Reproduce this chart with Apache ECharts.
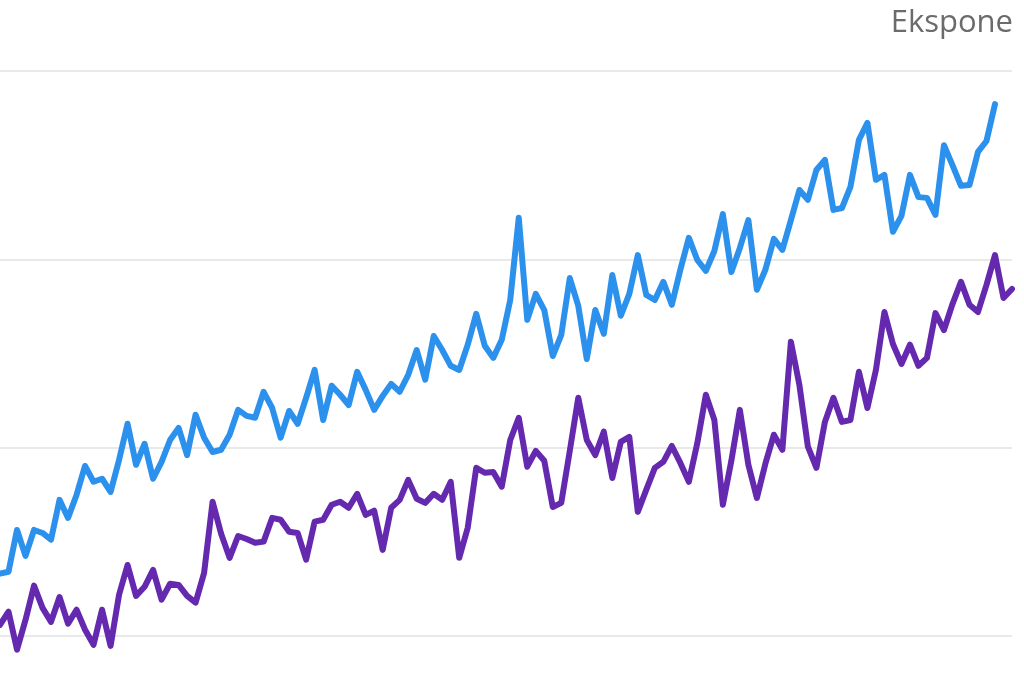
<!DOCTYPE html>
<html>
<head>
<meta charset="utf-8">
<script src="https://cdn.jsdelivr.net/npm/echarts@6/dist/echarts.min.js"></script>
<style>
html,body{margin:0;padding:0;background:#fff;width:1024px;height:683px;overflow:hidden;}
#chart{width:1024px;height:824px;}
</style>
</head>
<body>
<div id="chart"></div>
<script>
const titleText = 'Ekspone';
const categories = [1,2,3,4,5,6,7,8,9,10,11,12,13,14,15,16,17,18,19,20,21,22,23,24,25,26,27,28,29,30,31,32,33,34,35,36,37,38,39,40,41,42,43,44,45,46,47,48,49,50,51,52,53,54,55,56,57,58,59,60,61,62,63,64,65,66,67,68,69,70,71,72,73,74,75,76,77,78,79,80,81,82,83,84,85,86,87,88,89,90,91,92,93,94,95,96,97,98,99,100,101,102,103,104,105,106,107,108,109,110,111,112,113,114,115,116,117,118,119,120];
const blueValues = [66.5,67.0,78.1,71.2,78.1,77.3,75.5,86.1,81.3,87.4,95.1,90.9,91.7,88.2,96.7,106.3,95.4,101.0,91.7,96.2,
102.0,105.2,98.0,108.7,102.6,98.8,99.4,103.4,110.0,108.4,107.9,114.8,110.5,102.6,109.7,106.3,113.2,120.6,107.3,116.4,
114.0,111.3,120.1,115.3,110.0,113.7,116.9,114.8,119.3,125.9,118.0,129.6,125.9,121.7,120.6,127.3,135.5,127.0,123.8,128.6,
139.2,161.0,133.9,140.8,136.5,124.3,129.9,145.0,137.6,123.5,136.5,130.2,145.8,135.0,140.8,151.1,140.5,139.2,144.0,137.9,
147.2,155.7,149.8,146.9,152.2,162.0,146.6,153.0,160.4,141.9,147.2,155.4,152.5,160.4,168.4,165.8,173.7,176.4,163.1,163.6,
169.2,181.7,186.2,171.1,172.4,157.3,161.5,172.4,166.5,166.3,161.8,180.3,175.0,169.5,169.7,178.5,181.4,191.2];
const purpleValues = [52.9,56.4,46.3,54.2,63.3,57.4,53.7,60.3,53.2,56.9,51.6,47.6,56.9,47.3,60.9,68.8,60.6,63.0,67.5,59.6,
63.8,63.5,60.6,58.8,66.7,85.6,77.1,70.7,76.5,75.7,74.7,75.0,81.3,80.8,77.6,77.3,70.2,80.3,80.8,84.8,
85.6,84.0,87.7,82.1,83.2,72.8,84.0,86.1,91.4,86.4,85.3,87.7,86.1,90.9,70.7,78.7,94.6,93.3,93.5,89.6,
102.0,107.9,94.9,99.1,96.5,84.2,85.3,99.1,113.2,102.0,98.0,104.2,91.9,101.5,102.8,82.9,88.8,94.6,96.2,100.4,
95.9,90.9,101.2,114.0,107.3,84.8,96.5,110.0,95.4,86.6,95.7,103.4,99.4,128.1,116.6,100.2,94.6,106.8,113.2,106.8,
107.3,120.1,110.5,120.6,136.0,127.5,122.2,127.3,121.7,123.8,135.7,131.2,138.1,144.0,137.9,136.0,143.2,151.1,139.7,142.1];

const chart = echarts.init(document.getElementById('chart'), null, {renderer: 'canvas'});
chart.setOption({
  animation: false,
  backgroundColor: '#ffffff',
  title: {
    text: titleText,
    right: 6,
    top: 3,
    textStyle: {fontFamily: 'Open Sans', fontSize: 31, fontWeight: 'normal', color: '#6b6b6b'}
  },
  grid: {left: 0, right: 12, top: 71, bottom: 0, containLabel: false},
  xAxis: {
    type: 'category',
    data: categories,
    boundaryGap: false,
    axisLine: {show: false},
    axisTick: {show: false},
    axisLabel: {show: false},
    splitLine: {show: false}
  },
  yAxis: {
    type: 'value',
    min: 0,
    max: 200,
    interval: 50,
    axisLine: {show: false},
    axisTick: {show: false},
    axisLabel: {show: false},
    splitLine: {show: true, lineStyle: {color: '#e9e9e9', width: 2}}
  },
  series: [
    {
      type: 'line',
      data: blueValues,
      symbol: 'none',
      lineStyle: {color: '#2B91EC', width: 6, join: 'round', cap: 'round'}
    },
    {
      type: 'line',
      data: purpleValues,
      symbol: 'none',
      lineStyle: {color: '#6429AF', width: 6, join: 'round', cap: 'round'}
    }
  ]
});
</script>
</body>
</html>
